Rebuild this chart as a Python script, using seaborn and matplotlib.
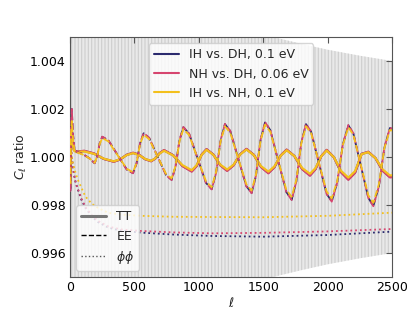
import numpy as np
import matplotlib
matplotlib.use("Agg")
import matplotlib.pyplot as plt
import seaborn as sns
from matplotlib.lines import Line2D

# ==============================
# Data
# ==============================

labels = ["IH vs. DH, 0.1 eV", "NH vs. DH, 0.06 eV", "IH vs. NH, 0.1 eV"]
colors = ["#2b2a6e", "#d6456f", "#f3c01d"]

# cosmic variance band (half width around 1)
band_ell = [2, 1000, 1300, 1576, 1800, 2000, 2250, 2500]
band_half = [0.2, 0.0063, 0.0055, 0.0050, 0.00471, 0.00447, 0.00422, 0.0040]

# TT ratios
ell_tt = [2, 6, 12, 20, 30, 50, 80, 110, 187, 263, 340, 390, 440, 490, 537, 583,
          630, 663, 697, 730, 802, 873, 945, 983, 1022, 1060, 1113, 1167, 1220,
          1270, 1320, 1370, 1427, 1483, 1540, 1587, 1635, 1682, 1742, 1803, 1863,
          1906, 1950, 1993, 2049, 2105, 2161, 2213, 2264, 2316, 2372, 2428, 2484, 2500]
tt_nh_dh = [0.9986, 1.0006, 1.0012, 1.0007, 1.0003, 1.00022, 1.00024, 1.00026,
            1.00015, 0.99992, 0.99980, 0.99990, 1.00009, 1.00018, 1.00009, 0.99991,
            0.99982, 0.99994, 1.00017, 1.00029, 1.00007, 0.99962, 0.99939, 0.99962,
            1.00010, 1.00033, 1.00010, 0.99965, 0.99942, 0.99965, 1.00011, 1.00034,
            1.00009, 0.99958, 0.99932, 0.99957, 1.00006, 1.00031, 1.00004, 0.99949,
            0.99922, 0.99949, 1.00003, 1.00030, 0.99999, 0.99936, 0.99905, 0.99934,
            1.00013, 1.00022, 0.99995, 0.99942, 0.99915, 0.99916]
tt_ih_dh = [0.9987, 1.0006, 1.0011, 1.0007, 1.0003, 1.00021, 1.00023, 1.00025,
            1.00014, 0.99992, 0.99981, 0.99990, 1.00009, 1.00017, 1.00009, 0.99991,
            0.99983, 0.99994, 1.00016, 1.00028, 1.00007, 0.99963, 0.99941, 0.99963,
            1.00010, 1.00032, 1.00010, 0.99966, 0.99944, 0.99966, 1.00011, 1.00033,
            1.00009, 0.99959, 0.99934, 0.99958, 1.00006, 1.00030, 1.00004, 0.99950,
            0.99924, 0.99950, 1.00003, 1.00029, 0.99999, 0.99937, 0.99907, 0.99935,
            1.00013, 1.00021, 0.99995, 0.99943, 0.99917, 0.99918]
tt_ih_nh = [0.9988, 1.0005, 1.0010, 1.0006, 1.00027, 1.0002, 1.00022, 1.00023,
            1.00013, 0.99993, 0.99982, 0.99991, 1.00008, 1.00016, 1.00008, 0.99992,
            0.99984, 0.99995, 1.00015, 1.00026, 1.00006, 0.99966, 0.99945, 0.99966,
            1.00009, 1.00030, 1.00009, 0.99968, 0.99948, 0.99968, 1.00010, 1.00031,
            1.00008, 0.99962, 0.99939, 0.99961, 1.00005, 1.00028, 1.00004, 0.99954,
            0.99930, 0.99954, 1.00003, 1.00027, 0.99999, 0.99942, 0.99914, 0.99941,
            1.00012, 1.00020, 0.99995, 0.99948, 0.99923, 0.99924]

# EE ratios
ell_ee = [2, 8, 14, 22, 35, 60, 100, 150, 191, 211, 230, 250, 298, 370, 441, 489,
          517, 544, 572, 615, 680, 746, 789, 819, 850, 880, 924, 990, 1056, 1100,
          1134, 1169, 1203, 1244, 1306, 1369, 1410, 1444, 1479, 1514, 1555, 1617,
          1680, 1721, 1758, 1795, 1832, 1872, 1932, 1992, 2032, 2075, 2118, 2161,
          2200, 2258, 2316, 2355, 2398, 2441, 2484, 2500]
ee_nh_dh = [0.9986, 1.0012, 1.0020, 1.0010, 1.0003, 1.0002, 1.00012, 0.99995, 0.99974,
            1.00002, 1.00057, 1.00085, 1.00070, 1.00008, 0.99947, 0.99932,
            0.99974, 1.00058, 1.00100, 1.00080, 1.00002, 0.99924, 0.99904,
            0.99959, 1.00070, 1.00125, 1.00099, 0.99995, 0.99891, 0.99865,
            0.99933, 1.00070, 1.00138, 1.00109, 0.99994, 0.99878, 0.99849,
            0.99923, 1.00071, 1.00145, 1.00113, 0.99983, 0.99853, 0.99821,
            0.99900, 1.00059, 1.00138, 1.00106, 0.99976, 0.99846, 0.99814,
            0.99894, 1.00053, 1.00133, 1.00099, 0.99964, 0.99829, 0.99795,
            0.99877, 1.00040, 1.00122, 1.00118]
ee_ih_dh = [0.9986, 1.0012, 1.0020, 1.0010, 1.0003, 1.0002, 1.00012, 0.99995, 0.99974,
            1.00002, 1.00056, 1.00084, 1.00069, 1.00008, 0.99948, 0.99933,
            0.99974, 1.00057, 1.00099, 1.00079, 1.00002, 0.99925, 0.99905,
            0.99959, 1.00069, 1.00124, 1.00098, 0.99995, 0.99892, 0.99866,
            0.99933, 1.00069, 1.00137, 1.00108, 0.99994, 0.99879, 0.99850,
            0.99923, 1.00070, 1.00144, 1.00112, 0.99983, 0.99854, 0.99822,
            0.99900, 1.00058, 1.00137, 1.00105, 0.99976, 0.99847, 0.99815,
            0.99894, 1.00052, 1.00132, 1.00098, 0.99964, 0.99830, 0.99796,
            0.99877, 1.00039, 1.00121, 1.00117]
ee_ih_nh = [0.9989, 1.0010, 1.0015, 1.0008, 1.00025, 1.00018, 1.0001, 0.99995, 0.99976,
            1.00002, 1.00053, 1.00079, 1.00065, 1.00007, 0.99951, 0.99937,
            0.99976, 1.00054, 1.00093, 1.00074, 1.00002, 0.99929, 0.99911,
            0.99962, 1.00065, 1.00116, 1.00092, 0.99995, 0.99899, 0.99874,
            0.99938, 1.00065, 1.00128, 1.00101, 0.99994, 0.99887, 0.99860,
            0.99928, 1.00066, 1.00135, 1.00105, 0.99984, 0.99863, 0.99834,
            0.99907, 1.00055, 1.00128, 1.00099, 0.99978, 0.99857, 0.99827,
            0.99901, 1.00049, 1.00124, 1.00092, 0.99967, 0.99841, 0.99809,
            0.99886, 1.00037, 1.00113, 1.00110]

# lensing potential ratios
ell_pp = [2, 10, 20, 30, 45, 65, 90, 120, 170, 220, 300, 400, 550, 800, 1100, 1500, 2000, 2500]
pp_ih_dh = [1.0008, 1.0002, 0.9997, 0.9993, 0.9989, 0.99858, 0.9982, 0.99788, 0.99752,
            0.99728, 0.99705, 0.99693, 0.99685, 0.99677, 0.99671, 0.99668, 0.99675, 0.99689]
pp_nh_dh = [1.0008, 1.0002, 0.9997, 0.9993, 0.9989, 0.99862, 0.99825, 0.99792, 0.99757,
            0.99733, 0.99710, 0.99698, 0.99692, 0.99686, 0.99682, 0.99684, 0.99690, 0.99700]
pp_ih_nh = [1.0006, 1.0002, 0.9998, 0.9996, 0.9993, 0.9990, 0.9987, 0.99835, 0.99805,
            0.99787, 0.99767, 0.99760, 0.99755, 0.99751, 0.99750, 0.99749, 0.99755, 0.99768]

tt_all = [tt_ih_dh, tt_nh_dh, tt_ih_nh]
ee_all = [ee_ih_dh, ee_nh_dh, ee_ih_nh]
pp_all = [pp_ih_dh, pp_nh_dh, pp_ih_nh]

# ==============================
# Plot
# ==============================

sns.set_style("white")
plt.rcParams.update({
    "font.family": ["DejaVu Sans"],
    "font.size": 9,
    "xtick.direction": "in",
    "ytick.direction": "in",
    "xtick.top": True,
    "ytick.right": True,
    "hatch.linewidth": 0.8,
})

fig = plt.figure(figsize=(4.15, 3.11), dpi=100)
ax = fig.add_axes([0.1687, 0.1093, 0.7759, 0.7717])

band_ell_a = np.array(band_ell)
band_half_a = np.array(band_half)
ax.fill_between(band_ell_a, 1 - band_half_a, 1 + band_half_a,
                facecolor="#e9e9e9", edgecolor="#cdcdcd", hatch="|||||",
                linewidth=0, zorder=0)

for vals, c in zip(pp_all, colors):
    sns.lineplot(x=ell_pp, y=vals, ax=ax, color=c, linestyle=":", linewidth=1.3,
                 legend=False, zorder=2)

for vals, c in zip(tt_all, colors):
    sns.lineplot(x=ell_tt, y=vals, ax=ax, color=c, linestyle="-", linewidth=1.6,
                 legend=False, zorder=3)

for vals, c in zip(ee_all, colors):
    sns.lineplot(x=ell_ee, y=vals, ax=ax, color=c, linestyle="--", linewidth=1.3,
                 legend=False, zorder=4)

ax.set_xlim(0, 2500)
ax.set_ylim(0.995, 1.005)
ax.set_xticks([0, 500, 1000, 1500, 2000, 2500])
ax.set_yticks([0.996, 0.998, 1.000, 1.002, 1.004])
ax.set_yticklabels(["0.996", "0.998", "1.000", "1.002", "1.004"])
ax.set_xlabel(r"$\ell$", labelpad=1)
ax.set_ylabel(r"$C_\ell$ ratio", labelpad=1)
for sp in ax.spines.values():
    sp.set_color("#555555")
ax.tick_params(colors="#555555", labelcolor="black", length=4, pad=3)

model_handles = [Line2D([0], [0], color=c, lw=1.5) for c in colors]
leg1 = ax.legend(model_handles, labels, loc="upper center", fontsize=9)
ax.add_artist(leg1)

style_handles = [
    Line2D([0], [0], color="#777777", lw=2.2, linestyle="-"),
    Line2D([0], [0], color="black", lw=1.0, linestyle="--"),
    Line2D([0], [0], color="#555555", lw=1.0, linestyle=":"),
]
ax.legend(style_handles, ["TT", "EE", r"$\phi\phi$"], loc="lower left", fontsize=9)

fig.savefig("out.png", dpi=100)
